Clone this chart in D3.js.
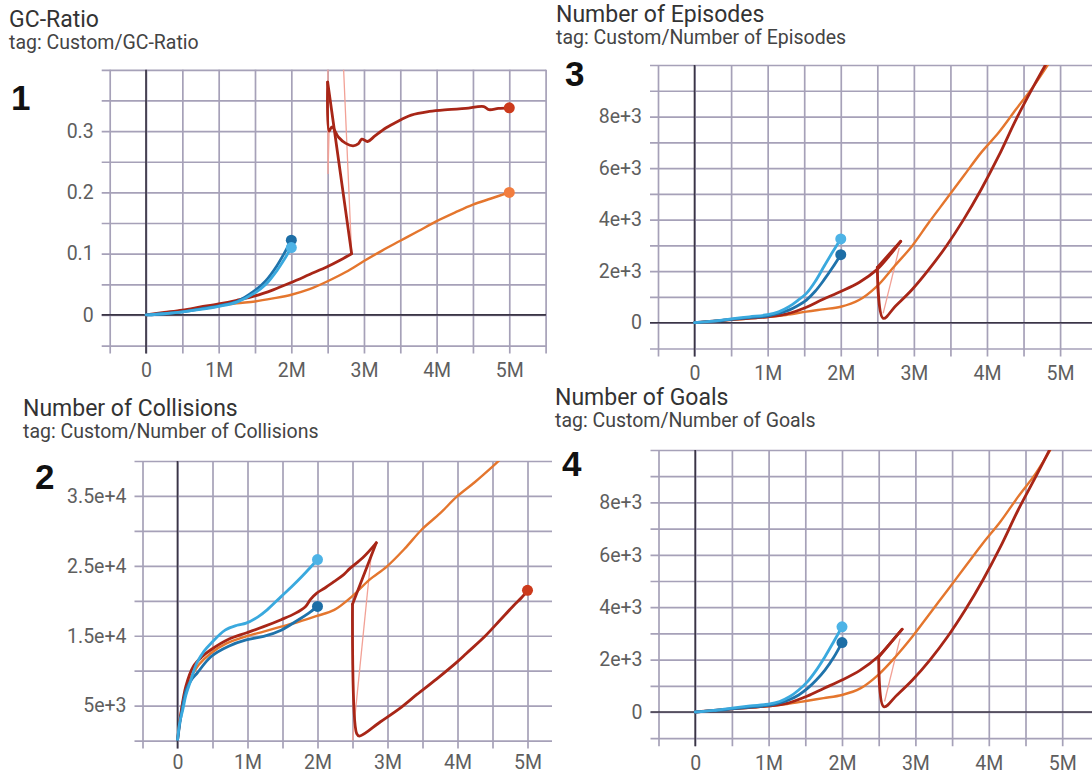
<!DOCTYPE html>
<html>
<head>
<meta charset="utf-8">
<script src="https://cdn.jsdelivr.net/npm/d3@7"></script>
<style>
  body { margin: 0; background: #fff; }
  svg { display: block; font-family: Roboto, "Noto Sans", sans-serif; }
</style>
</head>
<body>
<svg id="chart" width="1092" height="774"></svg>
<script>
// steps are in millions, values as logged

// 1 - GC-Ratio
const gcLightBlue = [[0,0],[0.25,0.002],[0.5,0.005],[0.75,0.009],[1,0.014],[1.25,0.021],[1.5,0.036],[1.65,0.05],[1.8,0.072],[1.9,0.09],[2,0.11]];
const gcDarkBlue = [[0,0],[0.25,0.002],[0.5,0.005],[0.75,0.01],[1,0.015],[1.25,0.022],[1.5,0.04],[1.65,0.056],[1.8,0.08],[1.9,0.1],[2,0.122]];
const gcDarkRed = [[0,0],[0.25,0.004],[0.5,0.008],[0.75,0.013],[1,0.018],[1.25,0.024],[1.5,0.031],[1.75,0.041],[2,0.053],[2.25,0.066],[2.5,0.079],[2.65,0.088],[2.83,0.1],
  [2.5,0.38],[2.52,0.3],[2.56,0.307],[2.65,0.29],[2.75,0.28],[2.85,0.276],[2.92,0.279],[2.97,0.287],[3.05,0.283],[3.15,0.292],[3.3,0.305],[3.45,0.315],[3.65,0.326],[3.9,0.332],[4.15,0.335],[4.4,0.337],[4.65,0.34],[4.72,0.335],[4.85,0.337],[5,0.338]];
const gcOrange = [[0,0],[0.25,0.003],[0.5,0.007],[0.75,0.011],[1,0.015],[1.25,0.019],[1.5,0.022],[1.75,0.027],[2,0.033],[2.25,0.042],[2.5,0.055],[2.75,0.07],[3,0.088],[3.25,0.105],[3.5,0.121],[3.75,0.137],[4,0.153],[4.25,0.167],[4.5,0.18],[4.75,0.19],[5,0.2]];
const gcRaw = [[2.83,0.1],[2.5,1.0],[2.505,0.23],[2.52,0.3]];

// 2 - Number of Collisions
const colLightBlue = [[0,0],[0.03,2500],[0.075,4400],[0.12,6500],[0.176,8200],[0.276,11100],[0.38,12800],[0.477,13900],[0.68,15800],[0.85,16500],[0.98,16800],[1.15,17700],[1.28,18700],[1.48,20600],[1.63,22000],[1.78,23500],[1.9,24800],[2,25900]];
const colDarkBlue = [[0,0],[0.05,3500],[0.126,7300],[0.2,8700],[0.276,9600],[0.477,12000],[0.73,13500],[0.98,14400],[1.23,14900],[1.48,15800],[1.73,17300],[1.87,18200],[2,19200]];
const colDarkRed = [[0,0],[0.05,4000],[0.12,7800],[0.226,10600],[0.35,12000],[0.477,13000],[0.73,14500],[0.98,15400],[1.23,16300],[1.48,17300],[1.68,18200],[1.83,19200],[1.9,20200],[1.99,21100],[2.1,21800],[2.23,22700],[2.37,23700],[2.46,24600],[2.65,26200],[2.84,28300],
  [2.5,19500],[2.56,1000],[2.6,650],[2.9,2700],[3.2,4800],[3.42,6600],[3.7,8800],[4,11300],[4.13,12500],[4.4,15000],[4.61,17250],[4.8,19300],[4.92,20500],[5,21500]];
const colOrange = [[0,0],[0.05,4000],[0.1,6500],[0.176,8700],[0.3,10800],[0.477,12500],[0.7,13900],[0.98,14900],[1.23,15600],[1.48,16300],[1.73,17000],[1.98,17800],[2.24,18700],[2.49,20600],[2.74,23000],[2.99,24900],[3.25,27500],[3.49,30200],[3.75,32500],[3.99,34900],[4.25,37000],[4.5,39200],[4.75,41500],[5,43500]];
const colRaw = [[2.77,26800],[2.5,0]];

// 3 - Number of Episodes
const epLightBlue = [[0,0],[0.25,60],[0.5,150],[0.75,230],[1,310],[1.15,420],[1.29,620],[1.41,860],[1.53,1140],[1.65,1600],[1.77,2180],[1.89,2750],[2,3250]];
const epDarkBlue = [[0,0],[0.25,50],[0.5,130],[0.75,200],[1,260],[1.15,360],[1.29,490],[1.41,660],[1.53,880],[1.65,1220],[1.77,1660],[1.89,2150],[2,2640]];
const epDarkRed = [[0,0],[0.5,120],[1,230],[1.25,330],[1.53,600],[1.75,900],[2,1210],[2.25,1560],[2.49,2050],[2.65,2550],[2.82,3160],
  [2.5,2150],[2.58,170],[2.75,650],[2.97,1270],[3.2,2050],[3.44,2960],[3.68,4000],[3.92,5170],[4.16,6470],[4.4,7900],[4.64,9190],[4.9,10500]];
const epOrange = [[0,0],[0.5,110],[1,220],[1.25,300],[1.53,430],[1.75,520],[2,620],[2.25,880],[2.49,1400],[2.73,2180],[2.97,2960],[3.2,3870],[3.44,4780],[3.68,5690],[3.92,6600],[4.16,7380],[4.4,8290],[4.64,9190],[4.9,10300]];
const epRaw = [[2.8,2900],[2.58,360]];

// 4 - Number of Goals
const goLightBlue = [[0,0],[0.25,60],[0.5,150],[0.75,230],[1,300],[1.15,400],[1.29,590],[1.41,840],[1.53,1160],[1.65,1600],[1.77,2120],[1.89,2700],[2,3250]];
const goDarkBlue = [[0,0],[0.25,50],[0.5,120],[0.75,190],[1,250],[1.15,350],[1.29,480],[1.41,650],[1.53,900],[1.65,1220],[1.77,1610],[1.89,2100],[2,2650]];
const goDarkRed = [[0,0],[0.5,120],[1,230],[1.25,330],[1.53,610],[1.75,900],[2,1220],[2.25,1600],[2.49,2110],[2.65,2600],[2.82,3160],
  [2.5,2100],[2.57,200],[2.75,650],[2.96,1220],[3.2,1990],[3.44,2880],[3.68,3900],[3.92,5040],[4.16,6310],[4.4,7710],[4.64,8980],[4.9,10400]];
const goOrange = [[0,0],[0.5,110],[1,220],[1.25,300],[1.53,430],[1.75,530],[2,650],[2.25,900],[2.49,1410],[2.73,2110],[2.96,2880],[3.2,3770],[3.44,4660],[3.68,5550],[3.92,6440],[4.16,7270],[4.4,8220],[4.64,9110],[4.9,10300]];
const goRaw = [[2.79,2800],[2.58,400]];

// tick labels
const xTickVals = [0, 1, 2, 3, 4, 5];
const xTickText = ["0", "1M", "2M", "3M", "4M", "5M"];
const gcTickVals = [0, 0.1, 0.2, 0.3];
const gcTickText = ["0", "0.1", "0.2", "0.3"];
const colTickVals = [5000, 15000, 25000, 35000];
const colTickText = ["5e+3", "1.5e+4", "2.5e+4", "3.5e+4"];
const cntTickVals = [0, 2000, 4000, 6000, 8000];
const cntTickText = ["0", "2e+3", "4e+3", "6e+3", "8e+3"];

const colors = {
  lightBlue: "#3aa9de", darkBlue: "#1f73ab", darkRed: "#a82617", orange: "#e4762e", raw: "#f2a196"
};
const dotColors = {
  lightBlue: "#4db3e6", darkBlue: "#1d6ea6", darkRed: "#cc3a1c", orange: "#f27d3e"
};

const panels = [
  { title: "GC-Ratio", tag: "tag: Custom/GC-Ratio", num: "1",
    tx: 9, ty: 27, gap: 22, nx: 11, ny: 110,
    xd: [-0.5, 5.5], xr: [109.7, 545.6], right: 546,
    yd: [-0.05, 0.4], yr: [345.6, 69.8], yStep: 0.05,
    yTicks: gcTickVals, yText: gcTickText, zeroY: true,
    series: { orange: gcOrange, darkRed: gcDarkRed, darkBlue: gcDarkBlue, lightBlue: gcLightBlue },
    raw: gcRaw, dots: ["darkBlue", "lightBlue", "darkRed", "orange"] },
  { title: "Number of Collisions", tag: "tag: Custom/Number of Collisions", num: "2",
    tx: 23, ty: 416, gap: 22, nx: 35, ny: 489,
    xd: [-0.5, 5.5], xr: [142.5, 562.5], right: 552,
    yd: [0, 40000], yr: [740.6, 461], yStep: 5000,
    yTicks: colTickVals, yText: colTickText, zeroY: false,
    series: { orange: colOrange, darkRed: colDarkRed, darkBlue: colDarkBlue, lightBlue: colLightBlue },
    raw: colRaw, dots: ["darkBlue", "lightBlue", "darkRed"] },
  { title: "Number of Episodes", tag: "tag: Custom/Number of Episodes", num: "3",
    tx: 556, ty: 22, gap: 22, nx: 565, ny: 86,
    xd: [-0.5, 6], xr: [658, 1133.2], right: 1092,
    yd: [-1000, 10000], yr: [348.5, 65], yStep: 1000,
    yTicks: cntTickVals, yText: cntTickText, zeroY: true,
    series: { orange: epOrange, darkRed: epDarkRed, darkBlue: epDarkBlue, lightBlue: epLightBlue },
    raw: epRaw, dots: ["darkBlue", "lightBlue"] },
  { title: "Number of Goals", tag: "tag: Custom/Number of Goals", num: "4",
    tx: 555, ty: 405, gap: 22, nx: 562, ny: 476,
    xd: [-0.5, 6], xr: [658.5, 1135.6], right: 1092,
    yd: [-1000, 10000], yr: [738.2, 450], yStep: 1000,
    yTicks: cntTickVals, yText: cntTickText, zeroY: true,
    series: { orange: goOrange, darkRed: goDarkRed, darkBlue: goDarkBlue, lightBlue: goLightBlue },
    raw: goRaw, dots: ["darkBlue", "lightBlue"] }
];

const svg = d3.select("#chart");
const gridColor = "#a6a1b8";
const axisColor = "#3a3545";

// a resumed run goes back in step: split it there
function splitRuns(data) {
  const parts = [[data[0]]];
  for (let k = 1; k < data.length; k++) {
    if (data[k][0] < data[k - 1][0]) parts.push([]);
    parts[parts.length - 1].push(data[k]);
  }
  return parts;
}

panels.forEach((p, i) => {
  const x = d3.scaleLinear().domain(p.xd).range(p.xr);
  const y = d3.scaleLinear().domain(p.yd).range(p.yr);
  const left = p.xr[0], top = p.yr[1], bottom = p.yr[0];
  const g = svg.append("g");

  // titles
  g.append("text").attr("x", p.tx).attr("y", p.ty)
    .attr("font-size", 23).attr("fill", "#333").text(p.title);
  g.append("text").attr("x", p.tx).attr("y", p.ty + p.gap)
    .attr("font-size", 19.5).attr("fill", "#444").text(p.tag);
  g.append("text").attr("x", p.nx).attr("y", p.ny)
    .attr("font-family", "'Liberation Sans', Arial, sans-serif").attr("font-weight", 700)
    .attr("font-size", 35).attr("fill", "#111").text(p.num);

  // grid values
  const xGrid = d3.range(p.xd[0], p.xd[1] + 0.001, 0.5).filter(v => x(v) <= p.right);
  const nY = Math.round((p.yd[1] - p.yd[0]) / p.yStep);
  const yGrid = d3.range(nY + 1).map(k => +(p.yd[0] + k * p.yStep).toFixed(6));
  const yLabel = v => {
    const k = p.yTicks.findIndex(t => Math.abs(t - v) < 1e-9);
    return k < 0 ? "" : p.yText[k];
  };
  const xLabel = v => {
    const k = xTickVals.findIndex(t => Math.abs(t - v) < 1e-9);
    return k < 0 ? "" : xTickText[k];
  };

  // horizontal grid + y labels
  const yAxis = g.append("g")
    .attr("transform", `translate(${left - 8},0)`)
    .call(d3.axisLeft(y).tickValues(yGrid).tickFormat(yLabel)
      .tickSize(-(p.right - left + 8)).tickSizeOuter(0).tickPadding(8));
  yAxis.select(".domain").remove();
  yAxis.selectAll("line").attr("stroke", gridColor).attr("stroke-width", 1.7);
  yAxis.selectAll("text").attr("font-size", 19.5).attr("fill", "#5e5e5e")
    .attr("font-family", "Roboto, sans-serif");

  // vertical grid + x labels
  const xAxis = g.append("g")
    .attr("transform", `translate(0,${bottom + 8})`)
    .call(d3.axisBottom(x).tickValues(xGrid).tickFormat(xLabel)
      .tickSize(-(bottom + 8 - top)).tickSizeOuter(0).tickPadding(i === 1 ? 7 : 9.5));
  xAxis.select(".domain").remove();
  xAxis.selectAll("line").attr("stroke", gridColor).attr("stroke-width", 1.7);
  xAxis.selectAll("text").attr("font-size", 19.5).attr("fill", "#5e5e5e")
    .attr("font-family", "Roboto, sans-serif");

  // zero axes
  g.append("line").attr("x1", x(0)).attr("x2", x(0))
    .attr("y1", top).attr("y2", bottom + 8)
    .attr("stroke", axisColor).attr("stroke-width", 1.7);
  if (p.zeroY) {
    g.append("line").attr("x1", left - 8).attr("x2", p.right)
      .attr("y1", y(0)).attr("y2", y(0))
      .attr("stroke", axisColor).attr("stroke-width", 1.7);
  }

  // clip
  const clipId = "clip" + i;
  svg.append("clipPath").attr("id", clipId).append("rect")
    .attr("x", left).attr("y", top)
    .attr("width", p.right - left).attr("height", bottom - top);
  const plot = g.append("g").attr("clip-path", `url(#${clipId})`);

  const smooth = d3.line()
    .x(d => x(d[0])).y(d => y(d[1]))
    .curve(d3.curveCatmullRom.alpha(0.5));
  const straight = d3.line().x(d => x(d[0])).y(d => y(d[1]));

  // faint raw line of the resumed run
  plot.append("path").datum(p.raw)
    .attr("d", straight)
    .attr("fill", "none").attr("stroke", colors.raw).attr("stroke-width", 1.3);

  Object.entries(p.series).forEach(([key, data]) => {
    const parts = splitRuns(data);
    const width = key === "orange" ? 2.4 : 2.8;
    parts.forEach((part, k) => {
      if (k > 0) {
        const prev = parts[k - 1];
        plot.append("path").datum([prev[prev.length - 1], part[0]])
          .attr("d", straight).attr("fill", "none")
          .attr("stroke", colors[key]).attr("stroke-width", width)
          .attr("stroke-linecap", "round");
      }
      plot.append("path").datum(part)
        .attr("d", smooth)
        .attr("fill", "none")
        .attr("stroke", colors[key])
        .attr("stroke-width", width)
        .attr("stroke-linejoin", "round")
        .attr("stroke-linecap", "round");
    });
  });

  // end dots
  plot.selectAll("circle.end")
    .data(p.dots.map(k => ({ key: k, d: p.series[k][p.series[k].length - 1] })))
    .enter().append("circle")
    .attr("class", "end")
    .attr("cx", o => x(o.d[0])).attr("cy", o => y(o.d[1]))
    .attr("r", 5.5)
    .attr("fill", o => dotColors[o.key]);
});
</script>
</body>
</html>
